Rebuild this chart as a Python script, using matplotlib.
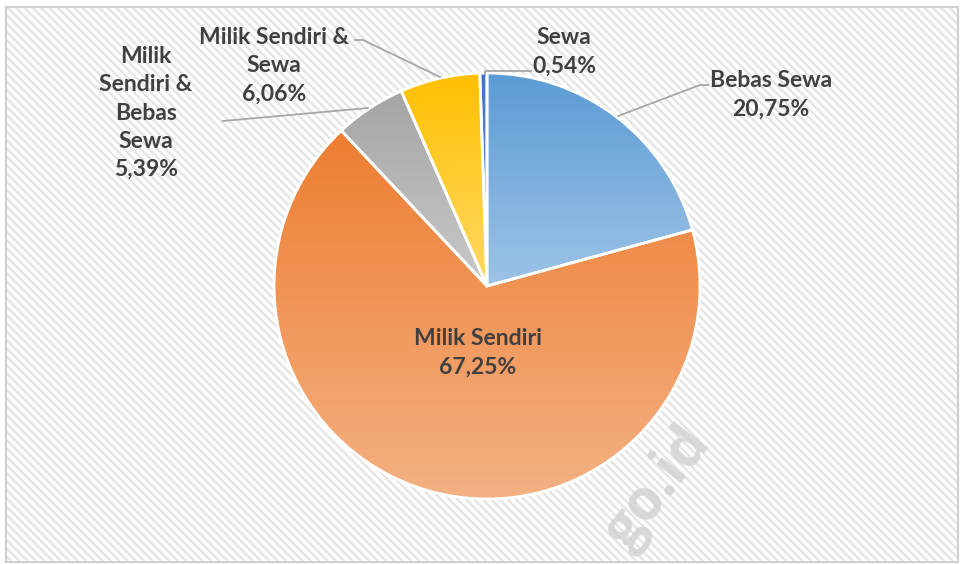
import matplotlib
matplotlib.use("Agg")
import matplotlib.pyplot as plt
import matplotlib.colors as mcolors
from matplotlib.patches import Rectangle
import numpy as np

# ---- data ----
labels = ["Bebas Sewa", "Milik Sendiri", "Milik Sendiri &\nBebas Sewa", "Milik Sendiri &\nSewa", "Sewa"]
values = [20.75, 67.25, 5.39, 6.06, 0.54]
label_texts = ["Bebas Sewa\n20,75%", "Milik Sendiri\n67,25%", "Milik\nSendiri &\nBebas\nSewa\n5,39%",
               "Milik Sendiri &\nSewa\n6,06%", "Sewa\n0,54%"]
top_colors = ["#5B9BD5", "#ED7D31", "#A5A5A5", "#FFC000", "#4472C4"]
bottom_colors = ["#9DC3E6", "#F4B183", "#C9C9C9", "#FFD966", "#6F93D3"]

W, H = 964, 564
plt.rcParams['hatch.color'] = '#E4E4E4'
plt.rcParams['hatch.linewidth'] = 1.6
fig = plt.figure(figsize=(W / 100, H / 100), dpi=100)
ax = fig.add_axes([0, 0, 1, 1])

def Y(y):
    return H - y

cx, cy, r = 487, Y(286), 213
wedges, _ = ax.pie(values, center=(cx, cy), radius=r, startangle=90, counterclock=False,
                   frame=True, wedgeprops=dict(edgecolor='white', linewidth=2))
ax.set_xlim(0, W)
ax.set_ylim(0, H)
ax.set_aspect('equal')
ax.axis('off')

# background with diagonal hatch
ax.add_patch(Rectangle((6, Y(562)), 952, 555, facecolor='white', edgecolor='#E4E4E4',
                       hatch='\\\\\\\\', linewidth=0, zorder=0))
ax.add_patch(Rectangle((6, Y(562)), 952, 555, facecolor='none', edgecolor='#D0D0D0',
                       linewidth=1.5, zorder=0.5))

for w, c1, c2 in zip(wedges, top_colors, bottom_colors):
    path = w.get_path().transformed(w.get_patch_transform())
    ext = path.get_extents()
    cmap = mcolors.LinearSegmentedColormap.from_list('g', [c2, c1])
    grad = np.linspace(0, 1, 256).reshape(-1, 1)
    im = ax.imshow(grad, cmap=cmap, origin='lower', aspect='auto',
                   extent=[ext.x0, ext.x1, ext.y0, ext.y1], zorder=1)
    im.set_clip_path(w)
    w.set_facecolor('none')
    w.set_zorder(2)

ax.set_xlim(0, W)
ax.set_ylim(0, H)

font = dict(family=['Lato', 'DejaVu Sans'], fontweight='bold', fontsize=16.5, color='#404040',
            ha='center', va='center', linespacing=1.42, zorder=5)

label_pos = [(771, 95), (478, 353), (146, 113), (274, 66), (564, 52)]
for t, (x, y) in zip(label_texts, label_pos):
    ax.text(x, Y(y), t, **font)

# leader lines
lc = dict(color='#A6A6A6', linewidth=1.3, zorder=3)
ax.plot([618, 700, 708], [Y(116), Y(85), Y(85)], **lc)
ax.plot([485, 485, 531], [Y(74), Y(71), Y(71)], **lc)
ax.plot([355, 363, 440], [Y(40), Y(40), Y(77)], **lc)
ax.plot([223, 368], [Y(121), Y(108)], **lc)

# watermark
ax.text(658, Y(488), "go.id", fontsize=41, color='#D2D2D2', rotation=52, ha='center', va='center',
        family=['Open Sans', 'DejaVu Sans'], fontweight='bold', zorder=4, alpha=0.85)

fig.savefig("out.png", dpi=100)
